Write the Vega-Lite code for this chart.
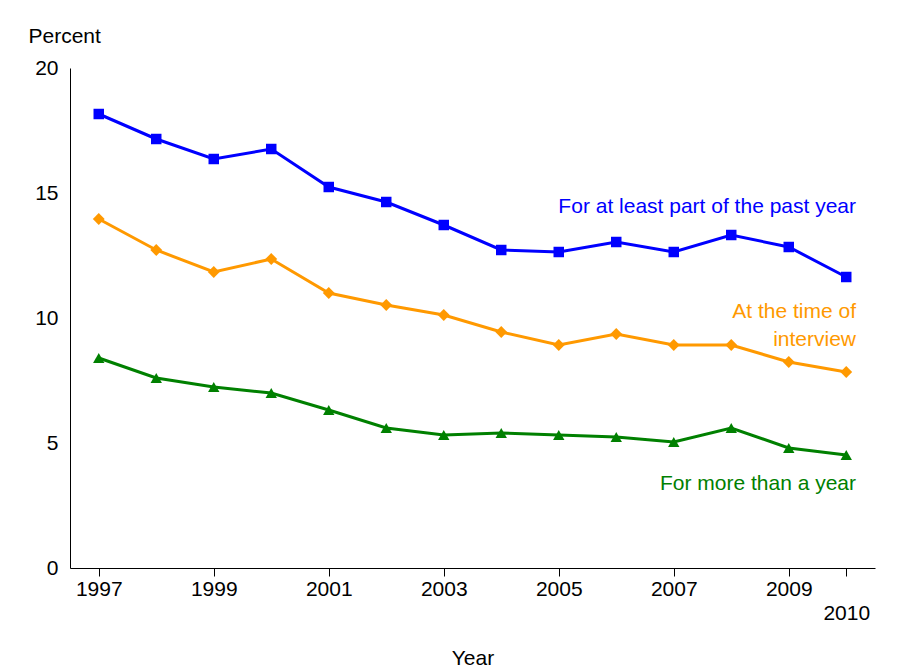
{
  "$schema": "https://vega.github.io/schema/vega-lite/v6.json",
  "width": 805,
  "height": 500,
  "autosize": "none",
  "padding": {"left": 70, "top": 68, "right": 28, "bottom": 104},
  "config": {"font": "Liberation Sans", "view": {"stroke": null},
    "axis": {"labelFontSize": 21, "titleFontSize": 21, "labelColor": "black", "titleColor": "black", "domainColor": "black", "tickColor": "black", "grid": false, "titleFontWeight": "normal"}},
  "datasets": {
    "series": [
      {"year": 1997, "s": "blue", "v": 18.16}, {"year": 1998, "s": "blue", "v": 17.16}, {"year": 1999, "s": "blue", "v": 16.36}, {"year": 2000, "s": "blue", "v": 16.76}, {"year": 2001, "s": "blue", "v": 15.24}, {"year": 2002, "s": "blue", "v": 14.64}, {"year": 2003, "s": "blue", "v": 13.72}, {"year": 2004, "s": "blue", "v": 12.72}, {"year": 2005, "s": "blue", "v": 12.64}, {"year": 2006, "s": "blue", "v": 13.04}, {"year": 2007, "s": "blue", "v": 12.64}, {"year": 2008, "s": "blue", "v": 13.32}, {"year": 2009, "s": "blue", "v": 12.84}, {"year": 2010, "s": "blue", "v": 11.64},
      {"year": 1997, "s": "orange", "v": 13.96}, {"year": 1998, "s": "orange", "v": 12.72}, {"year": 1999, "s": "orange", "v": 11.84}, {"year": 2000, "s": "orange", "v": 12.36}, {"year": 2001, "s": "orange", "v": 11.0}, {"year": 2002, "s": "orange", "v": 10.52}, {"year": 2003, "s": "orange", "v": 10.12}, {"year": 2004, "s": "orange", "v": 9.44}, {"year": 2005, "s": "orange", "v": 8.92}, {"year": 2006, "s": "orange", "v": 9.36}, {"year": 2007, "s": "orange", "v": 8.92}, {"year": 2008, "s": "orange", "v": 8.92}, {"year": 2009, "s": "orange", "v": 8.24}, {"year": 2010, "s": "orange", "v": 7.84},
      {"year": 1997, "s": "green", "v": 8.4}, {"year": 1998, "s": "green", "v": 7.6}, {"year": 1999, "s": "green", "v": 7.24}, {"year": 2000, "s": "green", "v": 7.0}, {"year": 2001, "s": "green", "v": 6.32}, {"year": 2002, "s": "green", "v": 5.6}, {"year": 2003, "s": "green", "v": 5.32}, {"year": 2004, "s": "green", "v": 5.4}, {"year": 2005, "s": "green", "v": 5.32}, {"year": 2006, "s": "green", "v": 5.24}, {"year": 2007, "s": "green", "v": 5.04}, {"year": 2008, "s": "green", "v": 5.6}, {"year": 2009, "s": "green", "v": 4.8}, {"year": 2010, "s": "green", "v": 4.52}
    ],
    "labels": [
      {"year": 2010.17, "v": 14.44, "t": "For at least part of the past year", "s": "blue"},
      {"year": 2010.17, "v": 10.24, "t": "At the time of", "s": "orange"},
      {"year": 2010.17, "v": 9.12, "t": "interview", "s": "orange"},
      {"year": 2010.17, "v": 3.36, "t": "For more than a year", "s": "green"}
    ]
  },
  "encoding": {
    "x": {"field": "year", "type": "quantitative", "scale": {"domain": [1996.5, 2010.5], "nice": false, "zero": false},
      "axis": {"title": "Year", "titleY": 90, "titleBaseline": "middle", "values": [1997, 1999, 2001, 2003, 2005, 2007, 2009, 2010], "labelExpr": "datum.value == 2010 ? ['', '2010'] : datum.value", "labelFlush": false, "tickSize": 8, "labelPadding": 2, "labelLineHeight": 24}},
    "y": {"field": "v", "type": "quantitative", "scale": {"domain": [0, 20], "nice": false},
      "axis": {"title": "Percent", "titleAngle": 0, "titleAnchor": "end", "titleAlign": "left", "titleX": -42, "titleY": -22, "values": [0, 5, 10, 15, 20], "ticks": false, "labelPadding": 12}},
    "color": {"field": "s", "type": "nominal", "scale": {"domain": ["blue", "orange", "green"], "range": ["#0000ff", "#ff9900", "#008000"]}, "legend": null}
  },
  "layer": [
    {"data": {"name": "series"}, "mark": {"type": "line", "strokeWidth": 3}},
    {"data": {"name": "series"}, "transform": [{"filter": "datum.s == 'blue'"}], "mark": {"type": "point", "shape": "square", "filled": true, "size": 110, "opacity": 1}},
    {"data": {"name": "series"}, "transform": [{"filter": "datum.s == 'orange'"}], "mark": {"type": "point", "shape": "diamond", "filled": true, "size": 140, "opacity": 1}},
    {"data": {"name": "series"}, "transform": [{"filter": "datum.s == 'green'"}], "mark": {"type": "point", "shape": "triangle-up", "filled": true, "size": 130, "opacity": 1}},
    {"data": {"name": "labels"}, "mark": {"type": "text", "align": "right", "fontSize": 21}, "encoding": {"text": {"field": "t"}}}
  ]
}
